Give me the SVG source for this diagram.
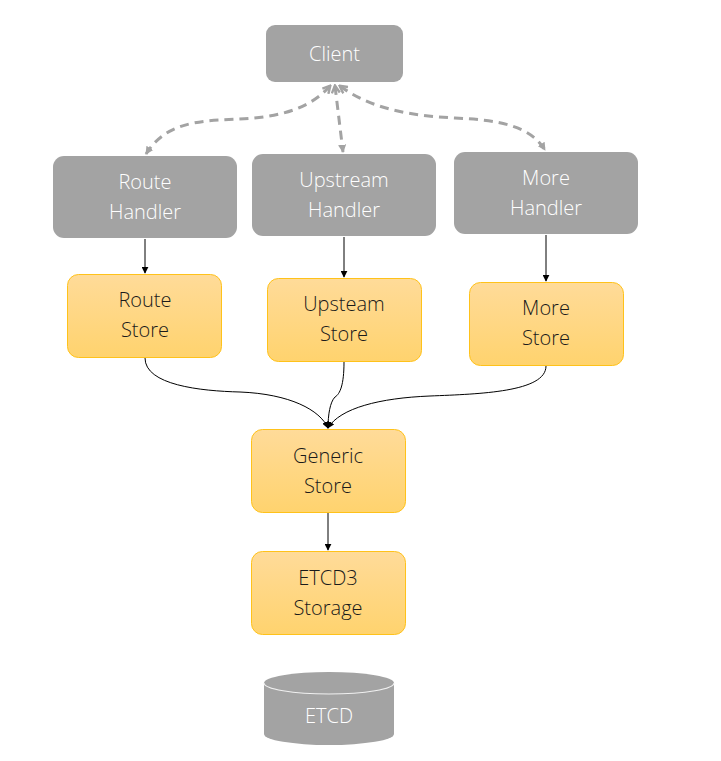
<svg xmlns="http://www.w3.org/2000/svg" width="721" height="761" viewBox="0 0 721 761">
<defs>
<linearGradient id="og" x1="0" y1="0" x2="0" y2="1">
<stop offset="0" stop-color="#FFDB99"/>
<stop offset="1" stop-color="#FFD36E"/>
</linearGradient>
<marker id="ab" viewBox="0 0 10 10" refX="9" refY="5" markerWidth="7" markerHeight="7" orient="auto-start-reverse" markerUnits="userSpaceOnUse">
<path d="M0,0 L10,5 L0,10 z" fill="#000"/>
</marker>
<marker id="ag" viewBox="0 0 10 10" refX="8" refY="5" markerWidth="9" markerHeight="9" orient="auto" markerUnits="userSpaceOnUse">
<path d="M0,0.5 L9,5 L0,9.5 z" fill="#A3A3A3"/>
</marker>
<marker id="as" viewBox="0 0 10 10" refX="8" refY="5" markerWidth="10" markerHeight="10" orient="auto-start-reverse" markerUnits="userSpaceOnUse">
<path d="M1,1 L8.5,5 L1,9" fill="none" stroke="#A3A3A3" stroke-width="2.4"/>
</marker>
</defs>
<style>
.g{fill:#A3A3A3;stroke:none}
.o{fill:url(#og);stroke:#FFC21A;stroke-width:1}
.tw{font-family:"Open Sans","Liberation Sans",sans-serif;font-size:20px;fill:#FFFFFF;text-anchor:middle;font-weight:300}
.tb{font-family:"Open Sans","Liberation Sans",sans-serif;font-size:20px;fill:#1A1A1A;text-anchor:middle;font-weight:300}
.c{fill:none;stroke:#000;stroke-width:1}
.d{fill:none;stroke:#A3A3A3;stroke-width:3;stroke-dasharray:9 6}
</style>
<rect width="721" height="761" fill="#fff"/>
<g id="connectors">
<path class="d" d="M330,86 C300,120 250,118 220,120 C180,122 160,132 146,154" marker-start="url(#as)" marker-end="url(#ag)"/>
<path class="d" d="M335,86 L343,152" marker-start="url(#as)" marker-end="url(#ag)"/>
<path class="d" d="M340,86 C375,112 420,116 455,118 C500,120 530,126 545,150" marker-start="url(#as)" marker-end="url(#ag)"/>
<path class="c" d="M145,239 L145,273" marker-end="url(#ab)"/>
<path class="c" d="M344,237 L344,277" marker-end="url(#ab)"/>
<path class="c" d="M546,235 L546,281" marker-end="url(#ab)"/>
<path class="c" d="M328,513 L328,550" marker-end="url(#ab)"/>
<path class="c" d="M145,358 C145,385 200,391 240,392 C290,394 320,410 328,428" marker-end="url(#ab)"/>
<path class="c" d="M344,362 C344,385 340,394 335,397 C330,402 328,415 328,428" marker-end="url(#ab)"/>
<path class="c" d="M546,366 C546,392 480,394 430,396 C380,398 340,408 328,428" marker-end="url(#ab)"/>
</g>
<g id="client">
<rect class="g" x="266" y="25" width="137" height="57" rx="9"/>
<text class="tw" x="334.5" y="61">Client</text>
</g>
<g id="route-handler">
<rect class="g" x="53" y="156" width="184" height="82" rx="11"/>
<text class="tw" x="145" y="189">Route</text>
<text class="tw" x="145" y="219">Handler</text>
</g>
<g id="upstream-handler">
<rect class="g" x="252" y="154" width="184" height="82" rx="11"/>
<text class="tw" x="344" y="187">Upstream</text>
<text class="tw" x="344" y="217">Handler</text>
</g>
<g id="more-handler">
<rect class="g" x="454" y="152" width="184" height="82" rx="11"/>
<text class="tw" x="546" y="185">More</text>
<text class="tw" x="546" y="215">Handler</text>
</g>
<g id="route-store">
<rect class="o" x="67.5" y="274.5" width="154" height="83" rx="11"/>
<text class="tb" x="145" y="307">Route</text>
<text class="tb" x="145" y="337">Store</text>
</g>
<g id="upsteam-store">
<rect class="o" x="267.5" y="278.5" width="154" height="83" rx="11"/>
<text class="tb" x="344" y="311">Upsteam</text>
<text class="tb" x="344" y="341">Store</text>
</g>
<g id="more-store">
<rect class="o" x="469.5" y="282.5" width="154" height="83" rx="11"/>
<text class="tb" x="546" y="315">More</text>
<text class="tb" x="546" y="345">Store</text>
</g>
<g id="generic-store">
<rect class="o" x="251.5" y="429.5" width="154" height="83" rx="11"/>
<text class="tb" x="328" y="463">Generic</text>
<text class="tb" x="328" y="493">Store</text>
</g>
<g id="etcd3-storage">
<rect class="o" x="251.5" y="551.5" width="154" height="83" rx="11"/>
<text class="tb" x="328" y="585">ETCD3</text>
<text class="tb" x="328" y="615">Storage</text>
</g>
<g id="etcd">
<path class="g" d="M264,683 A65,11 0 0 1 394,683 L394,734 A65,11 0 0 1 264,734 Z"/>
<path d="M264,683 A65,11 0 0 0 394,683" fill="none" stroke="#F0F0F0" stroke-width="1.2"/>
<text class="tw" x="329" y="723">ETCD</text>
</g>
</svg>
